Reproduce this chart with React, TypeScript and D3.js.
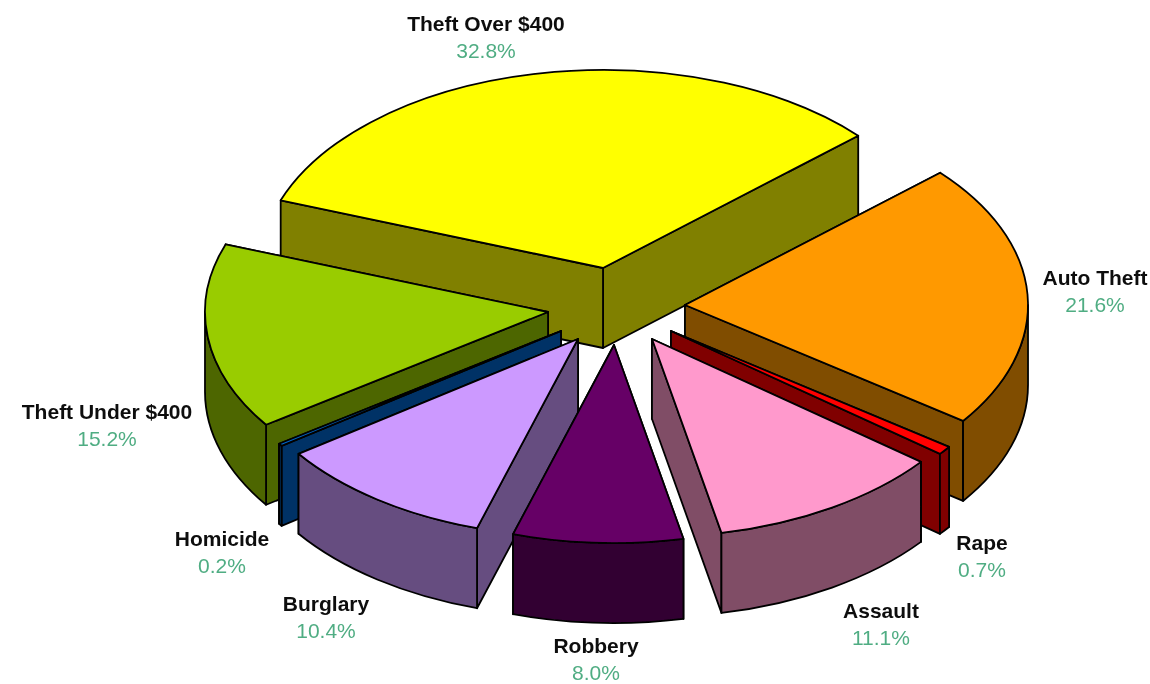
import React from 'react';
import * as d3 from 'd3';

const categories = ['Theft Over $400', 'Auto Theft', 'Rape', 'Assault', 'Robbery', 'Burglary', 'Homicide', 'Theft Under $400'];
const shares = [32.8, 21.6, 0.7, 11.1, 8.0, 10.4, 0.2, 15.2];

// top colour and the darker wall colour of each slice
const topColors = ['#ffff00', '#ff9900', '#ff0000', '#ff99cc', '#660066', '#cc99ff', '#0066cc', '#99cc00'];
const wallColors = ['#808000', '#804d00', '#800000', '#804d66', '#330033', '#664d80', '#003366', '#4d6600'];

// where each exploded slice has its tip, and where its label sits
const tips: [number, number][] = [[603, 268], [685, 305], [671, 331], [652, 339], [614, 345], [578, 339], [561, 331], [548, 312]];
const labelPos: [number, number][] = [[486, 31], [1095, 285], [982, 550], [881, 618], [596, 653], [326, 611], [222, 546], [107, 419]];

const width = 1150;
const height = 684;
const rx = 343;
const ry = 198;
const depth = 80;
const start = (-70 * Math.PI) / 180;

const pie = d3.pie<number>().sort(null).startAngle(start).endAngle(start + 2 * Math.PI);
const arcs = pie(shares);
const topArc = d3.arc<d3.PieArcDatum<number>>().innerRadius(0).outerRadius(rx);

const rim = (a: number, [x, y]: [number, number]) => [x + rx * Math.sin(a), y - ry * Math.cos(a)];

// the cut face from the tip to the rim at angle a
const cutFace = (a: number, tip: [number, number]) => {
  const [px, py] = rim(a, tip);
  return `M${tip[0]},${tip[1]}L${px},${py}L${px},${py + depth}L${tip[0]},${tip[1] + depth}Z`;
};

// the curved outer wall, only the part that faces the viewer
const outerWall = (a0: number, a1: number, tip: [number, number]) => {
  const norm = (a: number) => (a < 0 ? a + 2 * Math.PI : a);
  const s = Math.max(norm(a0), Math.PI / 2);
  const e = Math.min(norm(a0) + (a1 - a0), (3 * Math.PI) / 2);
  if (e <= s) return null;
  const [x0, y0] = rim(s, tip);
  const [x1, y1] = rim(e, tip);
  return `M${x0},${y0}A${rx},${ry} 0 0 1 ${x1},${y1}L${x1},${y1 + depth}A${rx},${ry} 0 0 0 ${x0},${y0 + depth}Z`;
};

// back to front
const drawOrder = d3.range(arcs.length).sort(
  (i, j) =>
    -Math.cos((arcs[i].startAngle + arcs[i].endAngle) / 2) + Math.cos((arcs[j].startAngle + arcs[j].endAngle) / 2)
);

export default function App() {
  return (
    <svg width={width} height={height} style={{ position: 'absolute', left: 0, top: 0, background: '#fff' }}>
      <defs>
        <filter id="soft" x="-5%" y="-5%" width="110%" height="110%">
          <feGaussianBlur stdDeviation="0.6" />
        </filter>
      </defs>
      <g filter="url(#soft)">
        {drawOrder.map(i => {
          const d = arcs[i];
          const tip = tips[i];
          // lower cut first so the face that shows ends up in front
          const cuts = [d.startAngle, d.endAngle].sort((a, b) => rim(a, tip)[1] - rim(b, tip)[1]);
          const wall = outerWall(d.startAngle, d.endAngle, tip);
          return (
            <g key={categories[i]} stroke="#000" strokeWidth={1.8} strokeLinejoin="round">
              {cuts.map(a => (
                <path key={a} d={cutFace(a, tip)} fill={wallColors[i]} />
              ))}
              {wall && <path d={wall} fill={wallColors[i]} />}
              <path
                d={topArc(d) as string}
                transform={`translate(${tip[0]},${tip[1]}) scale(1,${ry / rx})`}
                fill={topColors[i]}
                vectorEffect="non-scaling-stroke"
              />
            </g>
          );
        })}
        <g fontFamily="'Liberation Sans', Arial, sans-serif" fontSize={21} textAnchor="middle">
          {categories.map((c, i) => (
            <g key={c}>
              <text x={labelPos[i][0]} y={labelPos[i][1]} fontWeight="bold" fill="#111">
                {c}
              </text>
              <text x={labelPos[i][0]} y={labelPos[i][1] + 26.5} fill="#50ad83">
                {d3.format('.1f')(shares[i])}%
              </text>
            </g>
          ))}
        </g>
      </g>
    </svg>
  );
}
